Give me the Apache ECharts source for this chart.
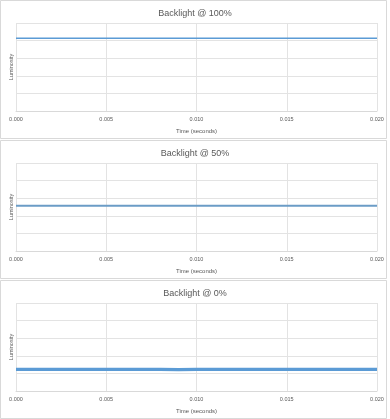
<!DOCTYPE html>
<html><head><meta charset="utf-8">
<script src="https://cdn.jsdelivr.net/npm/echarts@6/dist/echarts.min.js"></script>
<style>html,body{margin:0;padding:0;background:#fff}#c{width:390px;height:419px}</style>
</head><body><div id="c"></div>
<script>
var titles = ['Backlight @ 100%', 'Backlight @ 50%', 'Backlight @ 0%'];
var xTitle = 'Time (seconds)';
var yTitle = 'Luminosity';
var xTicks = [0, 0.005, 0.010, 0.015, 0.020];
var times = [0,0.001,0.002,0.003,0.004,0.005,0.006,0.007,0.008,0.009,0.010,0.011,0.012,0.013,0.014,0.015,0.016,0.017,0.018,0.019,0.020];
var lum100 = [4.13,4.13,4.13,4.13,4.13,4.13,4.13,4.13,4.13,4.13,4.13,4.13,4.13,4.13,4.13,4.13,4.13,4.13,4.13,4.13,4.13];
var lum50  = [2.57,2.57,2.57,2.57,2.57,2.57,2.57,2.57,2.57,2.57,2.57,2.57,2.57,2.57,2.57,2.57,2.57,2.57,2.57,2.57,2.57];
var lum0   = [1.23,1.23,1.23,1.23,1.23,1.23,1.23,1.23,1.23,1.22,1.23,1.23,1.23,1.23,1.23,1.23,1.23,1.23,1.23,1.23,1.23];
var seriesVals = [lum100, lum50, lum0];
var lineWidths = [1.5, 2.2, 3.2];
var lineColors = ['#5b9bd5', '#6b9cc6', '#5b9bd5'];

var PH = 140, font = "'Liberation Sans', Arial, sans-serif";
var opt = {backgroundColor:'#fff', animation:false, title:[], grid:[], xAxis:[], yAxis:[], series:[], graphic:[]};
for (var i=0;i<3;i++){
  var y0 = PH*i;
  opt.graphic.push({type:'rect', shape:{x:0.5, y:y0+0.5, width:386, height:138}, style:{fill:'none', stroke:'#d9d9d9', lineWidth:1}, silent:true});
  opt.title.push({text:titles[i], left:'center', top:y0+4, textStyle:{fontFamily:font, fontSize:9, fontWeight:'normal', color:'#595959'}});
  opt.grid.push({left:16, right:13, top:y0+23, height:88});
  opt.xAxis.push({type:'value', gridIndex:i, min:xTicks[0], max:xTicks[xTicks.length-1], interval:0.005,
    axisLine:{show:true, lineStyle:{color:'#d9d9d9'}}, axisTick:{show:false},
    splitLine:{show:true, lineStyle:{color:'#e3e3e3', width:1}},
    axisLabel:{fontFamily:font, fontSize:5.5, color:'#595959', margin:5, formatter:function(v){return v.toFixed(3);}},
    name:xTitle, nameLocation:'middle', nameGap:17, nameTextStyle:{fontFamily:font, fontSize:6, color:'#595959'}});
  opt.yAxis.push({type:'value', gridIndex:i, min:0, max:5, interval:1,
    axisLine:{show:false}, axisTick:{show:false}, axisLabel:{show:false},
    splitLine:{show:true, lineStyle:{color:'#e3e3e3', width:1}},
    name:yTitle, nameLocation:'middle', nameGap:2, nameTextStyle:{fontFamily:font, fontSize:5.5, color:'#595959'}});
  var d = times.map(function(t,k){return [t, seriesVals[i][k]];});
  opt.series.push({type:'line', xAxisIndex:i, yAxisIndex:i, data:d, symbol:'none', lineStyle:{color:lineColors[i], width:lineWidths[i]}});
}
echarts.init(document.getElementById('c')).setOption(opt);
</script></body></html>
